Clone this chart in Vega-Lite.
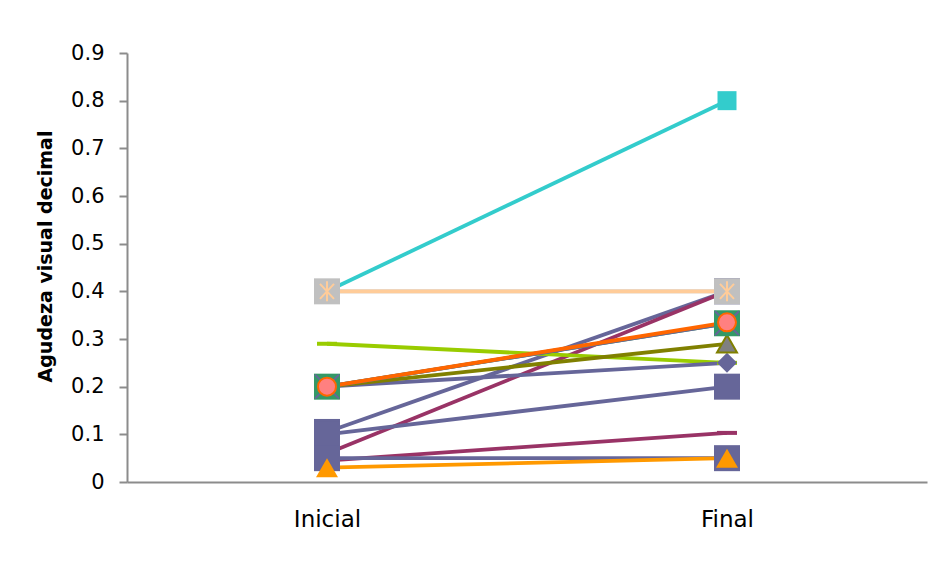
{
  "$schema": "https://vega.github.io/schema/vega-lite/v6.json",
  "width": 800,
  "height": 429,
  "autosize": {"type": "none"},
  "padding": {"left": 127, "top": 53, "right": 10, "bottom": 81},
  "background": "white",
  "config": {
    "view": {"stroke": null},
    "axis": {"grid": false, "domainColor": "#8c8c8c", "domainWidth": 2, "tickColor": "#8c8c8c", "tickWidth": 2, "labelColor": "#000000", "titleColor": "#000000"}
  },
  "data": {
    "values": [
      {"s": "A", "t": "Inicial", "v": 0.4}, {"s": "A", "t": "Final", "v": 0.8},
      {"s": "I", "t": "Inicial", "v": 0.105}, {"s": "I", "t": "Final", "v": 0.4},
      {"s": "K", "t": "Inicial", "v": 0.06}, {"s": "K", "t": "Final", "v": 0.4},
      {"s": "B", "t": "Inicial", "v": 0.4}, {"s": "B", "t": "Final", "v": 0.4},
      {"s": "C", "t": "Inicial", "v": 0.4}, {"s": "C", "t": "Final", "v": 0.4},
      {"s": "D", "t": "Inicial", "v": 0.29}, {"s": "D", "t": "Final", "v": 0.25},
      {"s": "H", "t": "Inicial", "v": 0.2}, {"s": "H", "t": "Final", "v": 0.25},
      {"s": "G", "t": "Inicial", "v": 0.2}, {"s": "G", "t": "Final", "v": 0.29},
      {"s": "F", "t": "Inicial", "v": 0.2}, {"s": "F", "t": "Final", "v": 0.333},
      {"s": "O", "t": "Inicial", "v": 0.2}, {"s": "O", "t": "Final", "v": 0.333},
      {"s": "E", "t": "Inicial", "v": 0.2}, {"s": "E", "t": "Final", "v": 0.335},
      {"s": "J", "t": "Inicial", "v": 0.1}, {"s": "J", "t": "Final", "v": 0.2},
      {"s": "L", "t": "Inicial", "v": 0.045}, {"s": "L", "t": "Final", "v": 0.103},
      {"s": "M", "t": "Inicial", "v": 0.05}, {"s": "M", "t": "Final", "v": 0.05},
      {"s": "N", "t": "Inicial", "v": 0.03}, {"s": "N", "t": "Final", "v": 0.05}
    ]
  },
  "encoding": {
    "x": {
      "field": "t", "type": "nominal", "sort": ["Inicial", "Final"],
      "scale": {"type": "point", "padding": 0.5},
      "axis": {"title": null, "ticks": false, "labelAngle": 0, "labelFont": "DejaVu Sans", "labelFontSize": 23, "labelPadding": 26, "labelBaseline": "top"}
    },
    "y": {
      "field": "v", "type": "quantitative",
      "scale": {"domain": [0, 0.9], "nice": false},
      "axis": {
        "title": "Agudeza visual decimal",
        "values": [0, 0.1, 0.2, 0.3, 0.4, 0.5, 0.6, 0.7, 0.8, 0.9],
        "format": ".1~f",
        "tickSize": 8,
        "labelPadding": 15,
        "labelFont": "DejaVu Sans", "labelFontSize": 21,
        "titleFont": "DejaVu Sans", "titleFontSize": 19, "titleFontWeight": "bold",
        "titleAngle": -90, "titleX": -82, "titleY": 203, "titleBaseline": "middle", "titleAlign": "center"
      }
    }
  },
  "layer": [
    {
      "mark": {"type": "line", "strokeWidth": 3.8},
      "encoding": {
        "detail": {"field": "s", "type": "nominal"},
        "color": {
          "field": "s", "type": "nominal", "legend": null,
          "scale": {
            "domain": ["A", "I", "K", "B", "C", "D", "H", "G", "F", "O", "E", "J", "L", "M", "N"],
            "range": ["#33CCCC", "#666699", "#993366", "#C0C0C0", "#FFCC99", "#99CC00", "#666699", "#808000", "#339966", "#666699", "#FF6600", "#666699", "#993366", "#666699", "#FF9900"]
          }
        }
      }
    },
    {
      "mark": {"type": "point", "filled": true, "opacity": 1, "strokeWidth": 2},
      "encoding": {
        "shape": {
          "field": "s", "type": "nominal", "legend": null,
          "scale": {
            "domain": ["A", "I", "K", "B", "C", "D", "H", "G", "F", "O", "E", "J", "L", "M", "N"],
            "range": ["square", "square", "M-1,-0.2H1V0.2H-1Z", "square", "M0,-1V1M-0.7,-0.75L0.7,0.75M-0.7,0.75L0.7,-0.75", "M-1,-0.2H1V0.2H-1Z", "diamond", "triangle-up", "square", "M-1,-1L1,1M-1,1L1,-1", "circle", "square", "M-1,-0.2H1V0.2H-1Z", "square", "triangle-up"]
          }
        },
        "size": {
          "field": "s", "type": "nominal", "legend": null,
          "scale": {
            "type": "ordinal",
            "domain": ["A", "I", "K", "B", "C", "D", "H", "G", "F", "O", "E", "J", "L", "M", "N"],
            "range": [361, 676, 400, 676, 400, 400, 400, 400, 676, 576, 324, 676, 400, 676, 484]
          }
        },
        "fill": {
          "field": "s", "type": "nominal", "legend": null,
          "scale": {
            "domain": ["A", "I", "K", "B", "C", "D", "H", "G", "F", "O", "E", "J", "L", "M", "N"],
            "range": ["#33CCCC", "#666699", "#993366", "#C0C0C0", "transparent", "#99CC00", "#666699", "#808080", "#339966", "transparent", "#FF8080", "#666699", "#993366", "#666699", "#FF9900"]
          }
        },
        "stroke": {
          "field": "s", "type": "nominal", "legend": null,
          "scale": {
            "domain": ["A", "I", "K", "B", "C", "D", "H", "G", "F", "O", "E", "J", "L", "M", "N"],
            "range": ["transparent", "transparent", "transparent", "transparent", "#FFCC99", "transparent", "transparent", "#808000", "transparent", "#666699", "#FF6600", "transparent", "transparent", "transparent", "transparent"]
          }
        }
      }
    }
  ]
}
